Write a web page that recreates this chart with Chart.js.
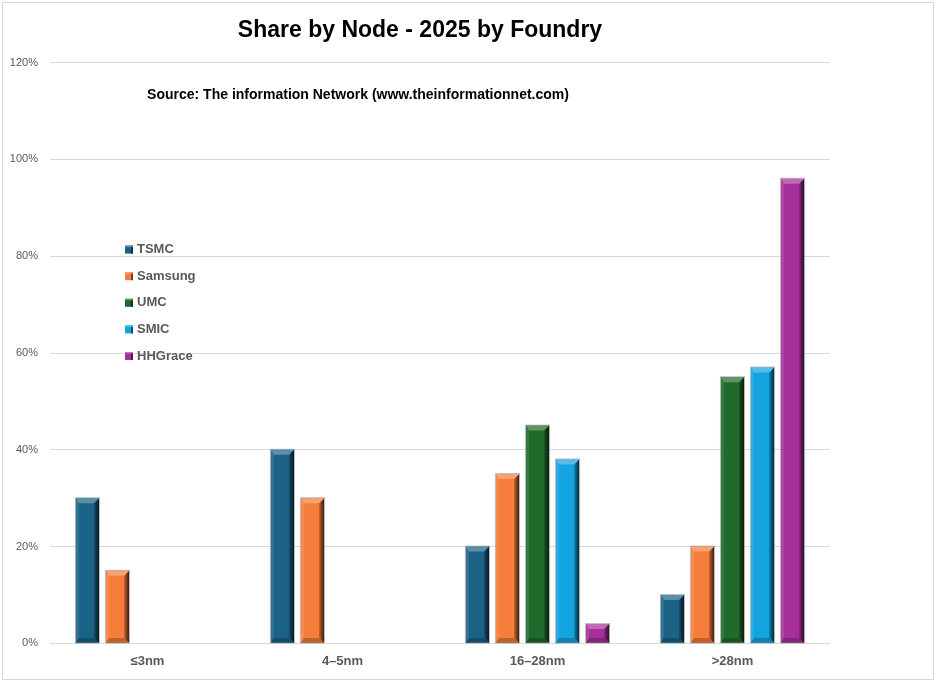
<!DOCTYPE html>
<html>
<head>
<meta charset="utf-8">
<script src="https://cdn.jsdelivr.net/npm/chart.js@4"></script>
<style>
html,body{margin:0;padding:0;background:#fff;}
#wrap{width:936px;height:682px;position:relative;}
</style>
</head>
<body>
<div id="wrap"><canvas id="c" width="936" height="682"></canvas></div>
<script>
const categories = ['≤3nm', '4–5nm', '16–28nm', '>28nm'];
const seriesNames = ['TSMC', 'Samsung', 'UMC', 'SMIC', 'HHGrace'];
const tsmc    = [0.30, 0.40, 0.20, 0.10];
const samsung = [0.15, 0.30, 0.35, 0.20];
const umc     = [null, null, 0.45, 0.55];
const smic    = [null, null, 0.38, 0.57];
const hhgrace = [null, null, 0.04, 0.96];
const colors  = ['#1b6287', '#f77d3a', '#1f6b2b', '#13a4e0', '#a62f9c'];
const yTicks  = [0, 0.2, 0.4, 0.6, 0.8, 1.0, 1.2];
const titleText  = 'Share by Node - 2025 by Foundry';
const sourceText = 'Source: The information Network (www.theinformationnet.com)';

const seriesValues = [tsmc, samsung, umc, smic, hhgrace];

function shade(hex, amt) {
  const n = parseInt(hex.slice(1), 16);
  let r = (n >> 16) & 255, g = (n >> 8) & 255, b = n & 255;
  if (amt >= 0) { r += (255 - r) * amt; g += (255 - g) * amt; b += (255 - b) * amt; }
  else { r *= (1 + amt); g *= (1 + amt); b *= (1 + amt); }
  return 'rgb(' + Math.round(r) + ',' + Math.round(g) + ',' + Math.round(b) + ')';
}

const bevelPlugin = {
  id: 'bevel',
  afterDatasetsDraw(chart) {
    const ctx = chart.ctx;
    chart.data.datasets.forEach((ds, di) => {
      const meta = chart.getDatasetMeta(di);
      const base = colors[di];
      meta.data.forEach((bar, i) => {
        if (ds.data[i] == null) return;
        const p = bar.getProps(['x', 'y', 'base', 'width'], true);
        const l = p.x - p.width / 2, r = p.x + p.width / 2, t = p.y, b = p.base;
        const bv = Math.min(5, (b - t) / 2);
        const rw = 5, lw = 3;
        ctx.save();
        const gr = ctx.createLinearGradient(r - rw, 0, r, 0);
        gr.addColorStop(0, shade(base, -0.2));
        gr.addColorStop(1, shade(base, -0.75));
        ctx.fillStyle = gr;
        ctx.beginPath();
        ctx.moveTo(r, t); ctx.lineTo(r, b); ctx.lineTo(r - rw, b - bv); ctx.lineTo(r - rw, t + bv); ctx.closePath(); ctx.fill();
        ctx.fillStyle = shade(base, 0.1);
        ctx.beginPath();
        ctx.moveTo(l, t); ctx.lineTo(l, b); ctx.lineTo(l + lw, b - bv); ctx.lineTo(l + lw, t + bv); ctx.closePath(); ctx.fill();
        ctx.fillStyle = shade(base, 0.28);
        ctx.beginPath();
        ctx.moveTo(l, t); ctx.lineTo(r, t); ctx.lineTo(r - rw, t + bv); ctx.lineTo(l + lw, t + bv); ctx.closePath(); ctx.fill();
        ctx.fillStyle = shade(base, -0.22);
        ctx.beginPath();
        ctx.moveTo(l, b); ctx.lineTo(r, b); ctx.lineTo(r - rw, b - bv); ctx.lineTo(l + lw, b - bv); ctx.closePath(); ctx.fill();
        ctx.strokeStyle = 'rgba(140,140,140,0.55)';
        ctx.lineWidth = 1;
        ctx.strokeRect(l - 0.5, t - 0.5, p.width + 1, b - t + 0.5);
        ctx.restore();
      });
    });
  }
};

const decorPlugin = {
  id: 'decor',
  beforeDraw(chart) {
    const ctx = chart.ctx;
    ctx.save();
    ctx.fillStyle = '#fff';
    ctx.fillRect(0, 0, chart.width, chart.height);
    ctx.strokeStyle = '#d9d9d9';
    ctx.lineWidth = 1;
    ctx.strokeRect(2.5, 2.5, chart.width - 5, chart.height - 5);
    ctx.restore();
  },
  afterDraw(chart) {
    const ctx = chart.ctx;
    const ca = chart.chartArea;
    ctx.save();
    ctx.fillStyle = '#000';
    ctx.font = 'bold 14px "Liberation Sans", Arial, sans-serif';
    ctx.textAlign = 'center';
    ctx.textBaseline = 'middle';
    ctx.fillText(sourceText, ca.left + 308, ca.top + 33);
    ctx.textAlign = 'left';
    ctx.font = 'bold 13px "Liberation Sans", Arial, sans-serif';
    chart.data.datasets.forEach((ds, i) => {
      const y = ca.top + 187 + i * 26.6;
      const x = ca.left + 75;
      const c = colors[i];
      ctx.fillStyle = c;
      ctx.fillRect(x, y - 4, 8, 8);
      ctx.fillStyle = shade(c, -0.5);
      ctx.fillRect(x + 6, y - 4, 2, 8);
      ctx.fillStyle = shade(c, 0.3);
      ctx.fillRect(x, y - 4, 8, 1.5);
      ctx.fillStyle = '#595959';
      ctx.fillText(ds.label, x + 12, y);
    });
    ctx.restore();
  }
};

const datasets = seriesNames.map((name, i) => ({
  label: name,
  data: seriesValues[i],
  backgroundColor: colors[i],
  borderWidth: 0,
  categoryPercentage: 0.77,
  barPercentage: 0.77
}));

new Chart(document.getElementById('c'), {
  type: 'bar',
  data: { labels: categories, datasets },
  options: {
    responsive: false,
    animation: false,
    devicePixelRatio: 1,
    layout: { padding: { left: 10, right: 106, top: 0, bottom: 11 } },
    plugins: {
      legend: { display: false },
      tooltip: { enabled: false },
      title: {
        display: true,
        text: titleText,
        color: '#000',
        font: { family: '"Liberation Sans", Arial, sans-serif', size: 23, weight: 'bold' },
        padding: { top: 17, bottom: 18 }
      }
    },
    scales: {
      x: {
        grid: { display: false },
        border: { display: false },
        ticks: {
          color: '#595959',
          padding: 2,
          font: { family: '"Liberation Sans", Arial, sans-serif', size: 13, weight: 'bold' }
        }
      },
      y: {
        min: 0,
        max: 1.2,
        afterFit(scale) { scale.width = 40; },
        afterBuildTicks(scale) { scale.ticks = yTicks.map(v => ({ value: v })); },
        border: { display: false },
        grid: { color: '#d9d9d9', lineWidth: 1, drawTicks: false },
        ticks: {
          color: '#595959',
          padding: 12,
          font: { family: '"Liberation Sans", Arial, sans-serif', size: 11 },
          callback: v => Math.round(v * 100) + '%'
        }
      }
    }
  },
  plugins: [decorPlugin, bevelPlugin]
});
</script>
</body>
</html>
